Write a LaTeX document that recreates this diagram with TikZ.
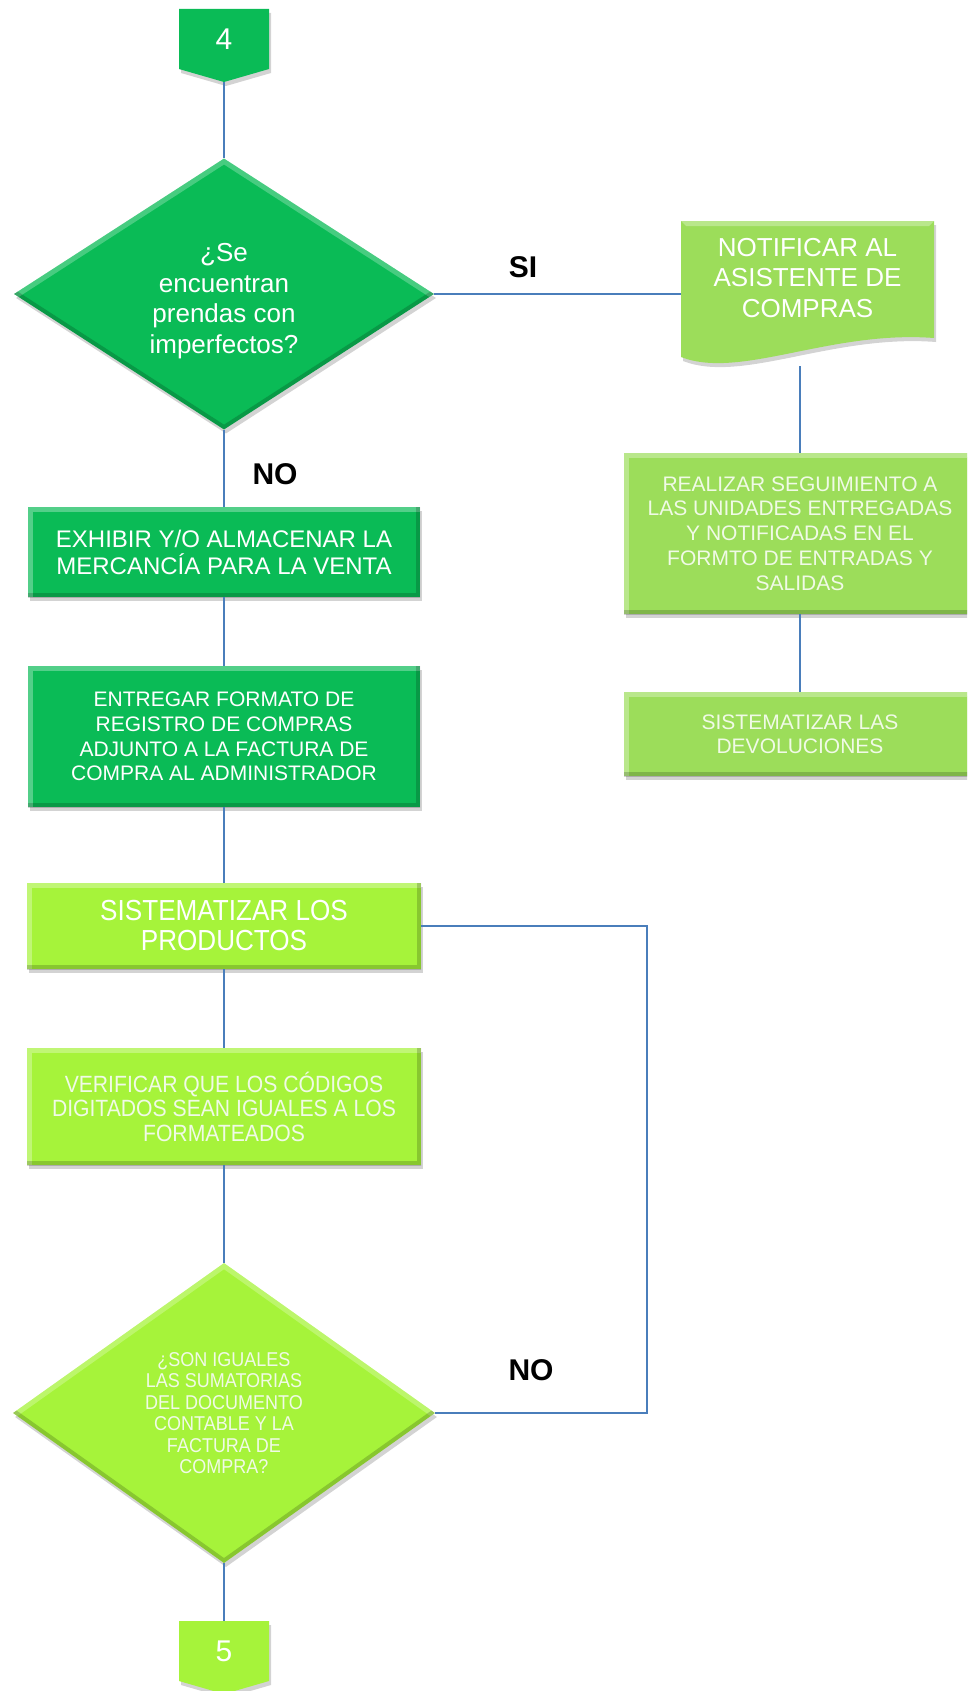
\documentclass[tikz,border=0pt]{standalone}
\usepackage{fontspec}
\setmainfont{Liberation Sans}
\newfontfamily\narrowsans{Liberation Sans}[FakeStretch=0.9]
\usepackage{tikz}
\usetikzlibrary{shapes.geometric}
\usetikzlibrary{shadows}

\definecolor{deepgreen}{RGB}{10,187,86}
\definecolor{leafgreen}{RGB}{156,221,90}
\definecolor{limegreen}{RGB}{166,243,58}
\definecolor{linkblue}{RGB}{74,126,187}
\definecolor{paletext}{RGB}{240,250,230}

\newcommand{\fsz}[2]{\fontsize{#1pt}{#2pt}\selectfont}

\tikzset{
	link/.style={draw=linkblue, line width=1.4pt},
	shade3d/.style={drop shadow={shadow xshift=2pt, shadow yshift=-4pt, opacity=0.35}},
	boxbevel/.style={path picture={
		\draw[white, opacity=0.3, line width=10pt] (path picture bounding box.south west) -- (path picture bounding box.north west) -- (path picture bounding box.north east);
		\draw[black, opacity=0.18, line width=8pt] (path picture bounding box.north east) -- (path picture bounding box.south east) -- (path picture bounding box.south west);
	}},
	diabevel/.style={path picture={
		\draw[white, opacity=0.25, line width=10pt] (path picture bounding box.west) -- (path picture bounding box.north) -- (path picture bounding box.east);
		\draw[black, opacity=0.18, line width=8pt] (path picture bounding box.east) -- (path picture bounding box.south) -- (path picture bounding box.west);
	}},
	procbox/.style={rectangle, align=center, inner sep=2pt, shade3d, boxbevel},
	darkbox/.style={procbox, fill=deepgreen, text=white, minimum width=392pt},
	leafbox/.style={procbox, fill=leafgreen, text=paletext, minimum width=352pt},
	limebox/.style={procbox, fill=limegreen, text=white, minimum width=394pt},
	query/.style={diamond, inner sep=0pt, align=center, shade3d, diabevel},
	answer/.style={font=\bfseries\fsz{30}{34}},
}

\begin{document}
\begin{tikzpicture}[x=1pt, y=-1pt]
			\useasboundingbox (0,0) rectangle (967,1691);
			\clip (0,0) rectangle (967,1691);
			
			% off-page connectors
			\foreach \num/\ytop/\col in {4/9/deepgreen, 5/1621/limegreen} {
				\fill[\col, shade3d] (179,\ytop) -- (269,\ytop) -- (269,\ytop+60) -- (224,\ytop+73) -- (179,\ytop+60) -- cycle;
				\node[text=white, font=\fsz{30}{34}] (c\num) at (224,\ytop+30) {\num};
			}
			\coordinate (c4b) at (224,82);
			\coordinate (c5t) at (224,1621);
			
			% left column
			\node[query, aspect=1.55, fill=deepgreen, text=white, minimum width=420pt, minimum height=271pt, font=\fsz{26}{30.5}] (d1) at (224,294) {\rule{0pt}{32pt}¿Se\\encuentran\\prendas con\\imperfectos?};
			\node[darkbox, minimum height=90pt, font=\fsz{24}{27}] (exh) at (224,552) {EXHIBIR Y/O ALMACENAR LA\\MERCANCÍA PARA LA VENTA};
			\node[darkbox, minimum height=141pt, font=\fsz{21}{24.7}] (ent) at (224,736.5) {ENTREGAR FORMATO DE\\REGISTRO DE COMPRAS\\ADJUNTO A LA FACTURA DE\\COMPRA AL ADMINISTRADOR};
			\node[limebox, minimum height=86pt, font=\narrowsans\fsz{29}{30}] (sisp) at (224,926) {SISTEMATIZAR LOS\\PRODUCTOS};
			\node[limebox, minimum height=117pt, text=paletext, font=\narrowsans\fsz{23.5}{24.5}] (verif) at (224,1106.5) {VERIFICAR QUE LOS CÓDIGOS\\DIGITADOS SEAN IGUALES A LOS\\FORMATEADOS};
			\node[query, aspect=1.4, fill=limegreen, text=paletext, minimum width=422pt, minimum height=300pt, font=\narrowsans\fsz{20}{21.4}] (d2) at (224,1413) {¿SON IGUALES\\LAS SUMATORIAS\\DEL DOCUMENTO\\CONTABLE Y LA\\FACTURA DE\\COMPRA?};
			
			% right column
			\fill[leafgreen, shade3d] (681,221) -- (934,221) -- (934,338) .. controls (830,330) and (740,380) .. (681,357) -- cycle;
			\fill[white, opacity=0.3] (681,221) -- (934,221) -- (929,226) -- (686,226) -- cycle;
			\node[text=white, align=center, font=\fsz{26}{30.5}] (notif) at (807.5,278) {NOTIFICAR AL\\ASISTENTE DE\\COMPRAS};
			\coordinate (notifw) at (681,294);
			\coordinate (notifs) at (800,366);
			\node[leafbox, minimum height=161pt, font=\fsz{21}{24.8}] (real) at (800,533.5) {REALIZAR SEGUIMIENTO A\\LAS UNIDADES ENTREGADAS\\Y NOTIFICADAS EN EL\\FORMTO DE ENTRADAS Y\\SALIDAS};
			\node[leafbox, minimum height=84pt, font=\fsz{21}{24}] (sisl) at (800,734) {SISTEMATIZAR LAS\\DEVOLUCIONES};
			
			% connectors
			\foreach \a/\b in {c4b/d1, d1/exh, exh/ent, ent/sisp, sisp/verif, verif/d2, d2/c5t, notifs/real, real/sisl}
				\draw[link] (\a) -- (\b);
			\draw[link] (d1.east) -- (notifw);
			\coordinate (noloop) at (647,926);
			\draw[link] (sisp.east) -- (noloop) |- (d2.east);
			
			\node[answer] (si) at (523,267) {SI};
			\node[answer] (no1) at (275,474) {NO};
			\node[answer] (no2) at (531,1370) {NO};
		\end{tikzpicture}
\end{document}
